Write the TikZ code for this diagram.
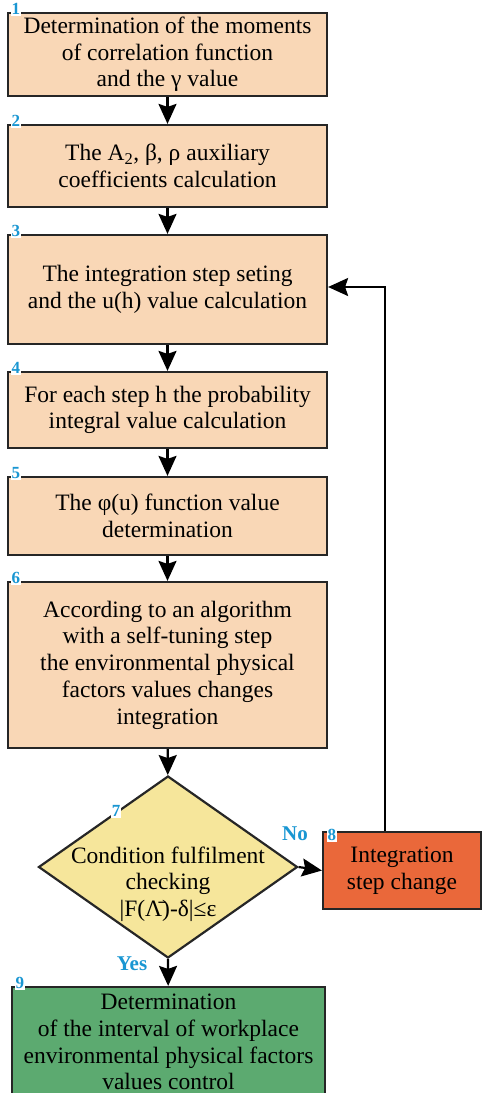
\documentclass[tikz,border=0pt]{standalone}
\usepackage{fontspec}
\setmainfont{Liberation Serif}
\usetikzlibrary{arrows.meta,shapes.geometric,calc}
\definecolor{boxpeach}{RGB}{249,215,182}
\definecolor{condyellow}{RGB}{246,230,155}
\definecolor{changeorange}{RGB}{234,104,58}
\definecolor{resultgreen}{RGB}{92,170,112}
\definecolor{numblue}{RGB}{25,150,210}
\tikzset{
  stepbox/.style={draw=black!85,line width=2.2pt,fill=boxpeach,
    minimum width=319pt,align=center,inner sep=0pt,
    font=\fontsize{23.5}{26.7}\selectfont},
  condbox/.style={diamond,draw=black!85,line width=2.2pt,fill=condyellow,
    minimum width=259pt,minimum height=182pt,inner sep=0pt,aspect=1.42},
  condtext/.style={align=center,inner sep=0pt,font=\fontsize{23.5}{26.7}\selectfont},
  numlabel/.style={fill=white,inner sep=1pt,text=numblue,
    font=\bfseries\fontsize{17}{17}\selectfont},
  answer/.style={text=numblue,font=\bfseries\fontsize{21}{21}\selectfont},
  flow/.style={line width=2.2pt,-{Stealth[length=20pt,width=18pt,inset=3pt]}}
}
\begin{document}
\begin{tikzpicture}[x=1pt,y=-1pt]
  \useasboundingbox (0,0) rectangle (483,1093);

  % blocks of the algorithm
  \node[stepbox,minimum height=83pt] (calc1) at (167.5,54.5)
    {Determination of the moments\\of correlation function\\and the γ value};
  \node[stepbox,minimum height=82pt] (calc2) at (167.5,166)
    {The A\textsubscript{2}, β, ρ auxiliary\\coefficients calculation};
  \node[stepbox,minimum height=109pt] (calc3) at (167.5,289.5)
    {The integration step seting\\and the u(h) value calculation};
  \node[stepbox,minimum height=76pt] (calc4) at (167.5,410)
    {For each step h the probability\\integral value calculation};
  \node[stepbox,minimum height=78pt] (calc5) at (167.5,516)
    {The φ(u) function value\\determination};
  \node[stepbox,minimum height=166pt] (calc6) at (167.5,665)
    {According to an algorithm\\with a self-tuning step\\the environmental physical\\factors values changes\\integration};
  \node[condbox] (check) at (168,867) {};
  \node[condtext] (checktext) at (168,884)
    {Condition fulfilment\\checking\\|F(\=Λ)-δ|≤ε};
  \node[stepbox,fill=changeorange,minimum width=158pt,minimum height=77pt] (change) at (402,870.5)
    {Integration\\step change};
  \node[stepbox,fill=resultgreen,minimum width=313pt,minimum height=110pt] (result) at (168.5,1042)
    {Determination\\of the interval of workplace\\environmental physical factors\\values control};

  % numbers of the blocks
  \foreach \blk/\num in {calc1/1,calc2/2,calc3/3,calc4/4,calc5/5,calc6/6,result/9}
    \node[numlabel] at ($(\blk.north west)+(9,-3)$) {\num};
  \node[numlabel] at (116,811) {7};
  \node[numlabel] at ($(change.north west)+(10,4)$) {8};

  % connectors
  \draw[flow] (calc1) -- (calc2);
  \draw[flow] (calc2) -- (calc3);
  \draw[flow] (calc3) -- (calc4);
  \draw[flow] (calc4) -- (calc5);
  \draw[flow] (calc5) -- (calc6);
  \draw[flow] (calc6) -- (check);
  \draw[flow] (check.east) -- (change.west);
  \draw[flow] (check.south) -- (result);
  \draw[flow] (change.north -| 385,0) -- (385,287) -- (calc3.east |- 0,287);

  \node[answer] at (295,834) {No};
  \node[answer] at (132,964) {Yes};
\end{tikzpicture}
\end{document}
